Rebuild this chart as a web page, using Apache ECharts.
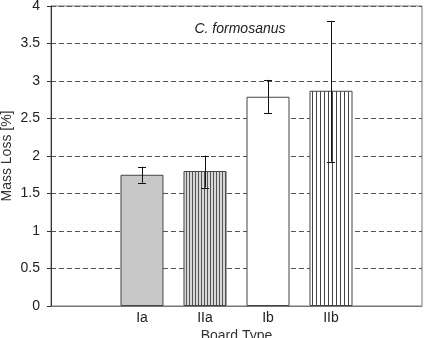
<!DOCTYPE html>
<html><head><meta charset="utf-8">
<script src="https://cdn.jsdelivr.net/npm/echarts@6/dist/echarts.min.js"></script>
<style>html,body{margin:0;padding:0;background:#fff}#c{width:426px;height:338px}</style>
</head><body><div id="c"></div>
<script>
const categories = ['Ia', 'IIa', 'Ib', 'IIb'];
const massLoss = [1.75, 1.80, 2.79, 2.87];
const errLow = [1.645, 1.58, 2.57, 1.925];
const errHigh = [1.857, 2.005, 3.015, 3.795];
const yTicks = [0, 0.5, 1, 1.5, 2, 2.5, 3, 3.5, 4];

function stripe(period, lineW, bg, fg) {
  const c = document.createElement('canvas');
  c.width = period; c.height = 4;
  const g = c.getContext('2d');
  g.fillStyle = bg; g.fillRect(0, 0, period, 4);
  g.fillStyle = fg; g.fillRect(0, 0, lineW, 4);
  return { image: c, repeat: 'repeat' };
}
const fills = ['#c8c8c8', stripe(3, 1, '#d8d8d8', '#555'), '#ffffff', stripe(4, 1, '#ffffff', '#444')];

const font = 'Liberation Sans, Arial, sans-serif';
const chart = echarts.init(document.getElementById('c'), null, { renderer: 'canvas' });
const pad = 1.444;
chart.setOption({
  animation: false,
  backgroundColor: '#fff',
  title: {
    text: 'C. formosanus', left: 235, top: 17, textAlign: 'center',
    textStyle: { fontFamily: font, fontSize: 14, fontStyle: 'italic', fontWeight: 'normal', color: '#222' }
  },
  grid: { left: 51, right: 4, top: 6, bottom: 32, show: true, borderColor: '#777', borderWidth: 1, containLabel: false, outerBoundsMode: 'none' },
  xAxis: {
    type: 'value', min: -pad, max: categories.length - 1 + pad,
    name: 'Board Type', nameLocation: 'middle', nameGap: 23, nameMoveOverlap: false,
    nameTextStyle: { fontFamily: font, fontSize: 14, color: '#333', verticalAlign: 'top' },
    axisLine: { show: true, lineStyle: { color: '#777' } },
    axisTick: { show: false },
    splitLine: { show: false },
    axisLabel: {
      customValues: categories.map((c, i) => i),
      formatter: v => categories[Math.round(v)] || '',
      fontFamily: font, fontSize: 14, color: '#222', margin: 5
    }
  },
  yAxis: {
    type: 'value', min: 0, max: 4, interval: 0.5,
    name: 'Mass Loss [%]', nameLocation: 'middle', nameGap: 44, nameRotate: 90, nameMoveOverlap: false,
    nameTextStyle: { fontFamily: font, fontSize: 14, color: '#333', verticalAlign: 'middle' },
    axisLine: { show: true, onZero: false, lineStyle: { color: '#333' } },
    axisTick: { show: true, length: 4, inside: false, lineStyle: { color: '#333' } },
    axisLabel: { fontFamily: font, fontSize: 14, color: '#222', margin: 11, formatter: v => yTicks.includes(v) ? String(v) : '' },
    splitLine: { show: true, lineStyle: { color: '#555', type: [5, 3], width: 1 } }
  },
  series: [
    {
      type: 'bar', barWidth: 43,
      data: massLoss.map((v, i) => ({ value: [i, v], itemStyle: { color: fills[i] } })),
      itemStyle: { borderColor: '#444', borderWidth: 1 },
      z: 2
    },
    {
      type: 'custom', z: 5,
      data: errLow.map((lo, i) => [i, lo, errHigh[i]]),
      renderItem: (params, api) => {
        const x = api.value(0);
        const lo = api.coord([x, api.value(1)]);
        const hi = api.coord([x, api.value(2)]);
        const w = 4;
        const st = { stroke: '#111', lineWidth: 1 };
        return {
          type: 'group', children: [
            { type: 'line', shape: { x1: Math.round(lo[0]) + 0.5, y1: lo[1], x2: Math.round(hi[0]) + 0.5, y2: hi[1] }, style: st },
            { type: 'line', shape: { x1: lo[0] - w, y1: Math.round(lo[1]) + 0.5, x2: lo[0] + w, y2: Math.round(lo[1]) + 0.5 }, style: st },
            { type: 'line', shape: { x1: hi[0] - w, y1: Math.round(hi[1]) + 0.5, x2: hi[0] + w, y2: Math.round(hi[1]) + 0.5 }, style: st }
          ]
        };
      }
    }
  ]
});
</script></body></html>
